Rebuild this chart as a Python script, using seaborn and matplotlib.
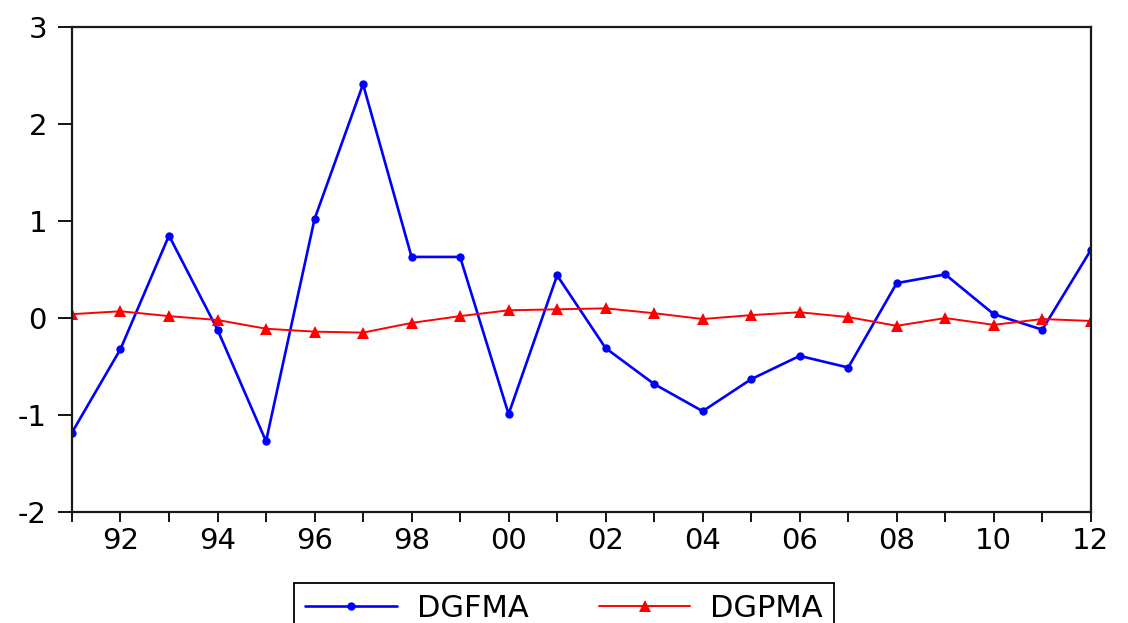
import numpy as np
import pandas as pd
import matplotlib
matplotlib.use("Agg")
import matplotlib.pyplot as plt
import seaborn as sns

years = list(range(1991, 2013))
dgfma = [-1.18, -0.32, 0.85, -0.12, -1.27, 1.02, 2.41, 0.63, 0.63, -0.99, 0.44,
         -0.31, -0.68, -0.96, -0.63, -0.39, -0.51, 0.36, 0.45, 0.04, -0.12, 0.70]
dgpma = [0.04, 0.07, 0.02, -0.02, -0.11, -0.14, -0.15, -0.05, 0.02, 0.08, 0.09,
         0.10, 0.05, -0.01, 0.03, 0.06, 0.01, -0.08, 0.00, -0.07, -0.01, -0.03]
x_tick_years = list(range(1992, 2013, 2))
x_tick_labels = [f"{y % 100:02d}" for y in x_tick_years]
y_ticks = [-2, -1, 0, 1, 2, 3]

df = pd.DataFrame({"year": years, "DGFMA": dgfma, "DGPMA": dgpma})

sns.set_style("white")
plt.rcParams["font.family"] = ["DejaVu Sans"]
plt.rcParams["text.color"] = "black"

fig = plt.figure(figsize=(11.28, 6.23), dpi=100)
ax = fig.add_axes([0.0638, 0.178, 0.967 - 0.0638, 0.9567 - 0.178])

sns.lineplot(data=df, x="year", y="DGFMA", ax=ax, color="#0000ff", linewidth=1.9,
             marker="o", markersize=6, markeredgewidth=0, label="DGFMA")
sns.lineplot(data=df, x="year", y="DGPMA", ax=ax, color="#ff0000", linewidth=1.4,
             marker="^", markersize=8, markeredgewidth=0, label="DGPMA")

ax.set_xlim(1991, 2012)
ax.set_ylim(-2, 3)
ax.set_xlabel("")
ax.set_ylabel("")

ax.set_yticks(y_ticks)
ax.set_yticklabels([str(v) for v in y_ticks])
ax.set_xticks(years, minor=True)
ax.set_xticks(x_tick_years)
ax.set_xticklabels(x_tick_labels)

ax.tick_params(axis="y", which="major", direction="out", length=10, width=1.3,
               pad=8, labelsize=21, colors="black", left=True)
ax.tick_params(axis="x", which="both", direction="out", length=7, width=1.3,
               pad=4, labelsize=21, colors="black", bottom=True)

for side in ["left", "right", "top", "bottom"]:
    ax.spines[side].set_visible(True)
    ax.spines[side].set_color("#1a1a1a")
    ax.spines[side].set_linewidth(1.6)

leg = ax.legend(loc="upper center", bbox_to_anchor=(0.5, 0.064),
                bbox_transform=fig.transFigure, ncol=2, fontsize=22,
                frameon=True, fancybox=False, handlelength=3.0,
                handletextpad=0.65, columnspacing=2.3, borderpad=0.35,
                borderaxespad=0)
leg.get_frame().set_edgecolor("black")
leg.get_frame().set_linewidth(1.3)
leg.get_frame().set_alpha(1)
for t in leg.get_texts():
    t.set_color("black")

fig.savefig("out.png", dpi=100, facecolor="white")
